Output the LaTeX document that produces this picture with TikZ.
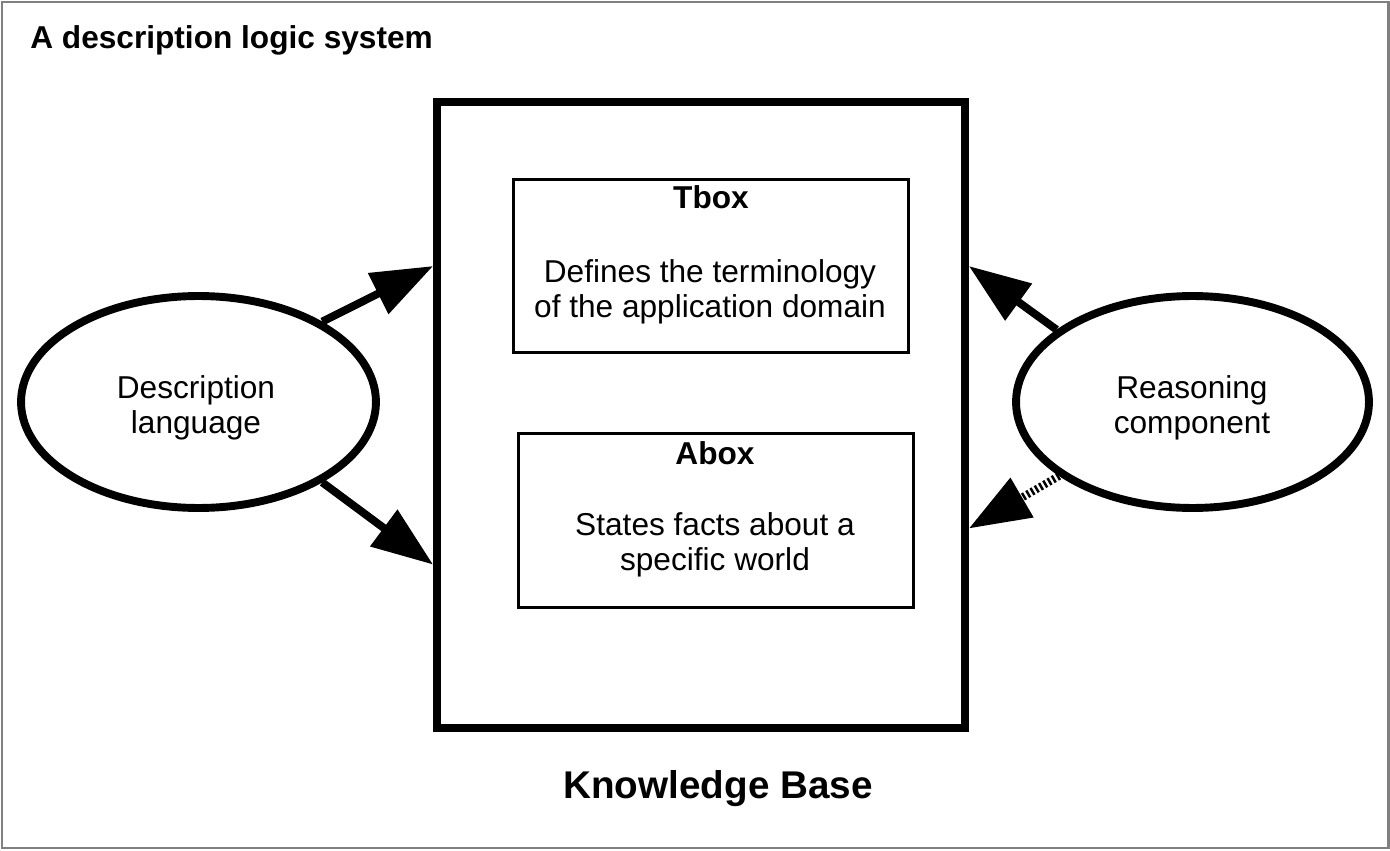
\documentclass[tikz,border=0pt]{standalone}
\usepackage{fontspec}
\setmainfont{Liberation Sans}
\usetikzlibrary{arrows.meta,shapes.geometric,calc}

\begin{document}
\begin{tikzpicture}[x=0.02cm,y=0.02cm,
  bigarrow/.style={line width=4.5pt,-{Triangle[length=35pt,width=25pt]}},
  part/.style={draw,line width=1.7pt,minimum width=7.92cm},
  txt/.style={font=\fontsize{18}{20}\selectfont,align=center},
  boldtxt/.style={font=\fontsize{18}{20}\selectfont\bfseries},
  oval/.style={draw,ellipse,line width=4.5pt,minimum height=4.24cm}]

\useasboundingbox (0,0) rectangle (1390,850);
\draw [gray, line width=1.7pt] (2,2) rectangle (1388,848);

\node [boldtxt, anchor=base west, inner sep=0pt] (title) at (30,801.5) {A description logic system};

\node [draw, line width=4.5pt, minimum width=10.56cm, minimum height=12.52cm] (kb) at (701,435) {};
\node [font=\fontsize{22}{26}\selectfont\bfseries, anchor=base] (kblabel) at (718,52) {Knowledge Base};

\node [part, minimum height=3.48cm] (tbox) at (711,584) {};
\node [boldtxt, anchor=base] (tboxtitle) at (711,641) {Tbox};
\node [txt] (tboxtext) at (710,558.5) {Defines the terminology\\of the application domain};

\node [part, minimum height=3.5cm] (abox) at (716,329.5) {};
\node [boldtxt, anchor=base] (aboxtitle) at (715,386) {Abox};
\node [txt] (aboxtext) at (715,305.5) {States facts about a\\specific world};

\node [oval, minimum width=7.1cm] (desc) at (198.5,448) {};
\node [txt] (desctext) at (196,442.5) {Description\\language};
\node [oval, minimum width=7.06cm] (reason) at (1192.5,448) {};
\node [txt] (reasontext) at (1192,442.5) {Reasoning\\component};

\draw [bigarrow] (desc.33) -- ($(kb.north west)!0.265!(kb.south west)$);
\draw [bigarrow] (desc.-33) -- ($(kb.north west)!0.736!(kb.south west)$);
\draw [bigarrow] (reason.152) -- ($(kb.north east)!0.265!(kb.south east)$);
\draw [bigarrow, dash pattern=on 1.4pt off 1.4pt] (reason.209) -- ($(kb.north east)!0.679!(kb.south east)$);

\end{tikzpicture}
\end{document}
